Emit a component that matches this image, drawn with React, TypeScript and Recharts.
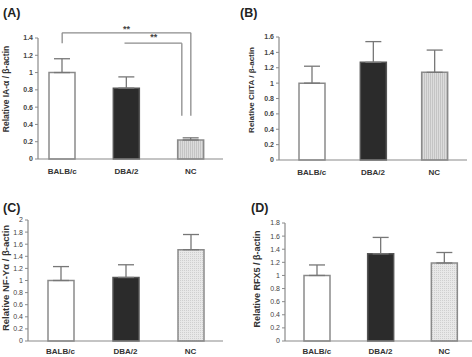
import React from 'react';
import { BarChart, Bar, XAxis, YAxis, Cell, ErrorBar, ReferenceLine } from 'recharts';

const categories = ['BALB/c', 'DBA/2', 'NC'];

// relative expression (mean) and upper SD for each transcript
const iaAlpha = [1.0, 0.82, 0.22];
const iaAlphaErr = [0.16, 0.13, 0.025];
const ciita = [1.0, 1.27, 1.14];
const ciitaErr = [0.22, 0.27, 0.29];
const nfy = [1.0, 1.05, 1.51];
const nfyErr = [0.23, 0.21, 0.25];
const rfx5 = [1.0, 1.33, 1.19];
const rfx5Err = [0.16, 0.25, 0.16];

const ticksA = [0, 0.2, 0.4, 0.6, 0.8, 1, 1.2, 1.4];
const ticksB = [0, 0.2, 0.4, 0.6, 0.8, 1, 1.2, 1.4, 1.6];
const ticksC = [0, 0.2, 0.4, 0.6, 0.8, 1, 1.2, 1.4, 1.6, 1.8, 2];
const ticksD = [0, 0.2, 0.4, 0.6, 0.8, 1, 1.2, 1.4, 1.6, 1.8];

// significance brackets for IA-alpha: BALB/c vs NC, DBA/2 vs NC
const sigTop = [1.46, 1.34];
const sigLegTop = 1.34;
const sigLegBottom = 0.5;

const FONT = '"Liberation Sans", Arial, sans-serif';
const AXIS = '#8a8a8a';
const BRACKET = '#8c8c8c';

const build = (vals: number[], errs: number[]) =>
  categories.map((name, i) => ({ name, value: vals[i], err: [0, errs[i]] }));

// the inner bracket's leg sits just left of the NC bar centre
const shiftedLine = (dx: number) => (props: any) => (
  <line
    x1={props.x1 + dx}
    y1={props.y1}
    x2={props.x2 + dx}
    y2={props.y2}
    stroke={BRACKET}
    strokeWidth={1.3}
  />
);

interface PanelProps {
  id: string;
  title: string;
  yLabel: string;
  data: { name: string; value: number; err: number[] }[];
  ticks: number[];
  left: number;
  top: number;
  height: number;
  margin: { top: number; right: number; bottom: number; left: number };
  yWidth: number;
  pad: { left: number; right: number };
  labelPos: [number, number];
  labelSize: number;
  tickMargin: number;
  tickWeight: number;
  titlePos: [number, number];
  pattern: 'stripe' | 'dots';
  brackets?: boolean;
}

function Panel(p: PanelProps) {
  const max = p.ticks[p.ticks.length - 1];
  const fills = ['#ffffff', '#2b2b2b', `url(#pat-${p.id})`];
  const strokes = ['#8a8a8a', '#555', '#8a8a8a'];
  const [lx, ly] = p.labelPos;
  const starLabel = { value: '**', position: 'top' as const, offset: 1, fontSize: 9, fontWeight: 700, fill: '#444', fontFamily: FONT };
  return (
    <div style={{ position: 'absolute', left: p.left, top: p.top, width: 236, height: p.height }}>
      <div style={{
        position: 'absolute', left: p.titlePos[0], top: p.titlePos[1],
        fontFamily: FONT, fontWeight: 700, fontSize: 12.5, lineHeight: 1, color: '#222',
      }}>{p.title}</div>
      <BarChart width={236} height={p.height} data={p.data} margin={p.margin}>
        <defs>
          {p.pattern === 'stripe' ? (
            <pattern id={`pat-${p.id}`} width={2} height={4} patternUnits="userSpaceOnUse">
              <rect width={2} height={4} fill="#dcdcdc" />
              <rect width={1} height={4} fill="#c4c4c4" />
            </pattern>
          ) : (
            <pattern id={`pat-${p.id}`} width={2} height={2} patternUnits="userSpaceOnUse">
              <rect width={2} height={2} fill="#e8e8e8" />
              <rect width={1} height={1} fill="#cfcfcf" />
            </pattern>
          )}
        </defs>
        <XAxis
          dataKey="name"
          height={16}
          interval={0}
          tickLine={false}
          tickSize={0}
          tickMargin={p.tickMargin}
          padding={p.pad}
          axisLine={{ stroke: AXIS, strokeWidth: 1.2 }}
          tick={{ fontSize: 8, fontWeight: 700, fill: '#333', fontFamily: FONT }}
        />
        <YAxis
          width={p.yWidth}
          domain={[0, max]}
          ticks={p.ticks}
          interval={0}
          tickSize={3}
          tickMargin={2}
          axisLine={{ stroke: AXIS, strokeWidth: 1.2 }}
          tickLine={{ stroke: AXIS }}
          tick={{ fontSize: 7, fontWeight: p.tickWeight, fill: '#444', fontFamily: FONT }}
          label={{
            content: () => (
              <text
                x={lx}
                y={ly}
                transform={`rotate(-90 ${lx} ${ly})`}
                textAnchor="middle"
                dominantBaseline="central"
                fontFamily={FONT}
                fontWeight={700}
                fontSize={p.labelSize}
                fill="#333"
              >
                {p.yLabel}
              </text>
            ),
          }}
        />
        <Bar dataKey="value" barSize={26} isAnimationActive={false}>
          {p.data.map((_, i) => (
            <Cell key={i} fill={fills[i]} stroke={strokes[i]} strokeWidth={1.5} />
          ))}
          <ErrorBar dataKey="err" width={8} stroke="#777" strokeWidth={1.3} />
        </Bar>
        {p.brackets && [
          // BALB/c vs NC
          <ReferenceLine key="o-h" ifOverflow="visible" stroke={BRACKET} strokeWidth={1.3}
            segment={[{ x: categories[0], y: sigTop[0] }, { x: categories[2], y: sigTop[0] }]} label={starLabel} />,
          <ReferenceLine key="o-l" ifOverflow="visible" stroke={BRACKET} strokeWidth={1.3}
            segment={[{ x: categories[0], y: sigTop[0] }, { x: categories[0], y: sigLegTop }]} />,
          <ReferenceLine key="o-r" ifOverflow="visible" stroke={BRACKET} strokeWidth={1.3}
            segment={[{ x: categories[2], y: sigTop[0] }, { x: categories[2], y: sigLegBottom }]} />,
          // DBA/2 vs NC
          <ReferenceLine key="i-h" ifOverflow="visible" stroke={BRACKET} strokeWidth={1.3}
            segment={[{ x: categories[1], y: sigTop[1] }, { x: categories[2], y: sigTop[1] }]}
            shape={(props: any) => (
              <g>
                <line x1={props.x1 - 2} y1={props.y1} x2={props.x2 - 9} y2={props.y2} stroke={BRACKET} strokeWidth={1.3} />
                <text x={(props.x1 + props.x2) / 2 - 5} y={props.y1 - 3} textAnchor="middle"
                  fontSize={9} fontWeight={700} fill="#444" fontFamily={FONT}>**</text>
              </g>
            )} />,
          <ReferenceLine key="i-r" ifOverflow="visible"
            segment={[{ x: categories[2], y: sigTop[1] }, { x: categories[2], y: sigLegBottom }]}
            shape={shiftedLine(-9)} />,
        ]}
      </BarChart>
    </div>
  );
}

export default function App() {
  return (
    <div style={{ position: 'absolute', left: 0, top: 0, width: 472, height: 357, overflow: 'hidden', background: '#fff' }}>
      <Panel
        id="a" title="(A)" yLabel="Relative IA-α / β-actin" data={build(iaAlpha, iaAlphaErr)} ticks={ticksA}
        left={0} top={0} height={178} margin={{ top: 38, right: 13, bottom: 3, left: 8 }} yWidth={30}
        pad={{ left: -8, right: 0 }} labelPos={[6, 89]} labelSize={8.5} tickMargin={9} tickWeight={700}
        titlePos={[3, 7]} pattern="stripe" brackets
      />
      <Panel
        id="b" title="(B)" yLabel="Relative CIITA / β-actin" data={build(ciita, ciitaErr)} ticks={ticksB}
        left={236} top={0} height={178} margin={{ top: 37, right: 5, bottom: 2, left: 13 }} yWidth={30}
        pad={{ left: 2, right: 2 }} labelPos={[15, 90]} labelSize={8} tickMargin={9} tickWeight={700}
        titlePos={[4, 7]} pattern="stripe"
      />
      <Panel
        id="c" title="(C)" yLabel="Relative NF-Yα / β-actin" data={build(nfy, nfyErr)} ticks={ticksC}
        left={0} top={178} height={179} margin={{ top: 42, right: 13, bottom: 0, left: 6 }} yWidth={22}
        pad={{ left: 0, right: 0 }} labelPos={[5, 100]} labelSize={9.5} tickMargin={7} tickWeight={400}
        titlePos={[3, 24]} pattern="dots"
      />
      <Panel
        id="d" title="(D)" yLabel="Relative RFX5 / β-actin" data={build(rfx5, rfx5Err)} ticks={ticksD}
        left={236} top={178} height={179} margin={{ top: 45, right: 0, bottom: 0, left: 25 }} yWidth={24}
        pad={{ left: 0, right: -4 }} labelPos={[21, 101]} labelSize={9} tickMargin={7} tickWeight={400}
        titlePos={[15, 24]} pattern="dots"
      />
    </div>
  );
}
